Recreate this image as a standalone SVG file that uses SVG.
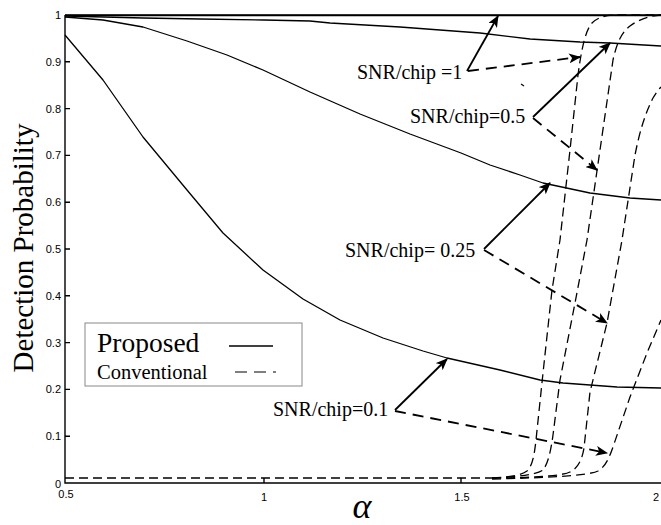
<svg xmlns="http://www.w3.org/2000/svg" width="661" height="525" viewBox="0 0 661 525">
<style>
.ax{stroke:#000;stroke-width:1.4;fill:none}
.tk{font-family:"Liberation Sans",Arial,sans-serif;font-size:11px;fill:#000}
.sol{stroke:#000;stroke-width:1.3;fill:none;stroke-linejoin:round}
.dsh{stroke:#000;stroke-width:1.3;fill:none;stroke-dasharray:9,5;stroke-linejoin:round}
.lab{font-family:"Liberation Serif","Times New Roman",serif;font-size:20px;fill:#000}
.asol{stroke:#000;stroke-width:1.8;fill:none}
.adsh{stroke:#000;stroke-width:1.8;fill:none;stroke-dasharray:11,7}
</style>
<defs>
<marker id="ah" markerWidth="12" markerHeight="10" refX="11" refY="5" orient="auto" markerUnits="userSpaceOnUse">
<path d="M0,0 L12,5 L0,10 L3,5 Z" fill="#000"/>
</marker>
</defs>
<rect width="661" height="525" fill="#fff"/>
<g id="axes">
<path class="ax" d="M65,15 H661 M65,15 V483 H661"/>
<path class="ax" stroke-width="1" d="M65,61.8h5M65,108.6h5M65,155.4h5M65,202.2h5M65,249h5M65,295.8h5M65,342.6h5M65,389.4h5M65,436.2h5M264,483v-5M461,483v-5"/>
<g class="tk" text-anchor="end" dominant-baseline="central">
<text x="61" y="15">1</text>
<text x="61" y="61.8">0.9</text>
<text x="61" y="108.6">0.8</text>
<text x="61" y="155.4">0.7</text>
<text x="61" y="202.2">0.6</text>
<text x="61" y="249">0.5</text>
<text x="61" y="295.8">0.4</text>
<text x="61" y="342.6">0.3</text>
<text x="61" y="389.4">0.2</text>
<text x="61" y="436.2">0.1</text>
<text x="61" y="484">0</text>
</g>
<g class="tk" text-anchor="middle">
<text x="66" y="498">0.5</text>
<text x="264" y="501">1</text>
<text x="462" y="501">1.5</text>
<text x="656" y="501">2</text>
</g>
<text x="362" y="518" text-anchor="middle" font-family="'Liberation Serif','Times New Roman',serif" font-style="italic" font-size="36">α</text>
<text transform="translate(33,248) rotate(-90)" text-anchor="middle" font-family="'Liberation Serif','Times New Roman',serif" font-size="29">Detection Probability</text>
</g>
<g id="curves-proposed">
<polyline class="sol" points="65,15.5 661,15.5"/>
<polyline class="sol" points="65,16 143,18 200,19 264,20 310,21 330,23 400,27 480,33 530,39 580,42 610,43 661,46"/>
<polyline class="sol" points="65,17 103,20 143,27 187,41 227,55 263,70 310,92 360,114 410,134 461,153 490,165 520,175 543,183 590,193 630,198 661,200"/>
<polyline class="sol" points="65,35 103,80 143,137 187,190 223,233 263,270 303,299 340,320 383,338 423,351 447,358 500,370 540,380 563,383 617,387 661,388"/>
</g>
<g id="curves-conventional">
<path class="dsh" d="M65,478 H492"/>
<path class="dsh" d="M492,478 C510,477 522,475 527,471 C532,466 534,458 536,440 L543,373 L552,290 L560,240 L570,150 L578,75 C582,45 586,30 592,23 C598,17 606,15 617,15 L661,15"/>
<path class="dsh" d="M492,478 C515,477 537,475 543,470 C548,464 551,450 553,435 L560,380 L575,303 L587,240 L600,150 L613,60 C617,42 622,32 630,26 C638,20 648,16 661,15"/>
<path class="dsh" d="M492,478 C530,478 562,476 570,472 C578,468 582,460 584,448 L590,392 L607,323 L622,240 L635,155 C640,130 645,114 653,98 C656,93 658,90 661,87"/>
<path class="dsh" d="M492,479 C540,478 588,476 598,471 C606,466 609,458 613,447 L630,397 L647,353 L661,320"/>
</g>
<g id="legend">
<rect x="85" y="323" width="217" height="63" fill="#fff" stroke="#888" stroke-width="1"/>
<text x="97" y="352" font-family="'Liberation Serif','Times New Roman',serif" font-size="27.5">Proposed</text>
<text x="97" y="379" font-family="'Liberation Serif','Times New Roman',serif" font-size="20.5">Conventional</text>
<line x1="229" y1="346" x2="273" y2="346" stroke="#000" stroke-width="1.4"/>
<line x1="235" y1="372" x2="276" y2="372" stroke="#000" stroke-width="1.2" stroke-dasharray="12,7"/>
</g>
<g id="label-snr1">
<text class="lab" x="357" y="79">SNR/chip  =1</text>
</g>
<g id="label-snr05">
<text class="lab" x="410" y="123">SNR/chip=0.5</text>
</g>
<g id="label-snr025">
<text class="lab" x="345" y="257">SNR/chip= 0.25</text>
</g>
<g id="label-snr01">
<text class="lab" x="273" y="416">SNR/chip=0.1</text>
</g>
<g id="connectors">
<line class="asol" x1="467" y1="71" x2="498" y2="16" marker-end="url(#ah)"/>
<line class="adsh" x1="468" y1="71" x2="580" y2="57" marker-end="url(#ah)"/>
<line class="asol" x1="533" y1="117" x2="610" y2="43" marker-end="url(#ah)"/>
<line class="adsh" x1="533" y1="118" x2="597" y2="170" marker-end="url(#ah)"/>
<line class="asol" x1="484" y1="249" x2="550" y2="183" marker-end="url(#ah)"/>
<line class="adsh" x1="484" y1="250" x2="607" y2="323" marker-end="url(#ah)"/>
<line class="asol" x1="395" y1="410" x2="447" y2="359" marker-end="url(#ah)"/>
<line class="adsh" x1="395" y1="411" x2="607" y2="453" marker-end="url(#ah)"/>
<line x1="521" y1="84" x2="524" y2="86" stroke="#000" stroke-width="1.2"/>
</g>
</svg>
